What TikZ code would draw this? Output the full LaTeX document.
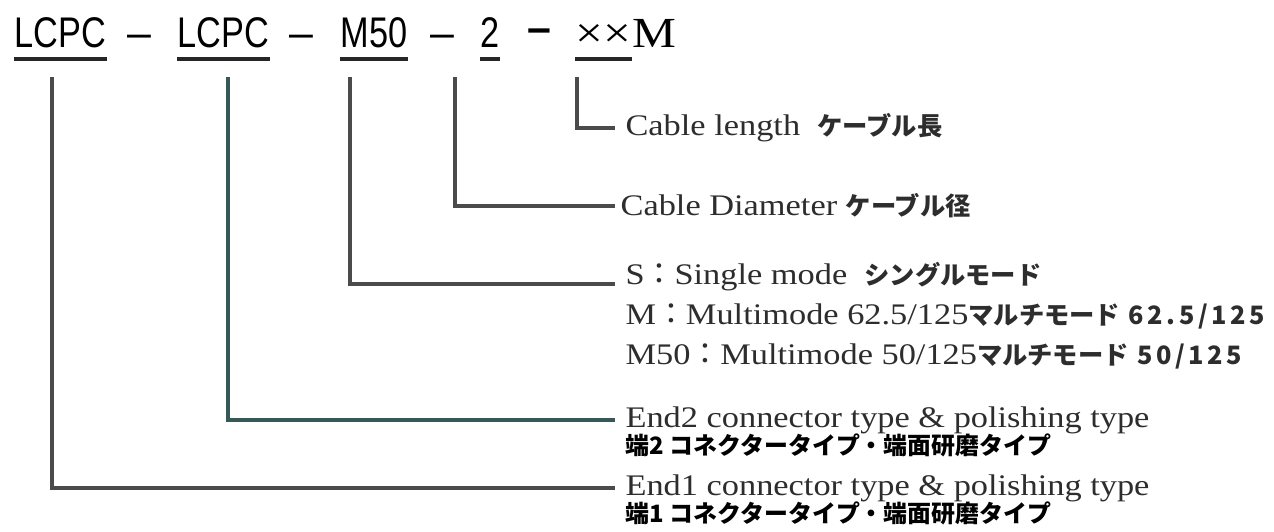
\documentclass[tikz,border=0pt]{standalone}
\usepackage{fontspec}
\setmainfont{Liberation Serif}[FakeStretch=1.15]
\newfontfamily\codefont{Liberation Sans}[FakeStretch=0.8]
\newfontfamily\dashfont{Liberation Sans}
\newfontfamily\cjk{Noto Sans CJK JP}
\newfontfamily\cjknum{Noto Sans CJK JP}[LetterSpace=14]
\usetikzlibrary{positioning}

\definecolor{leadgray}{RGB}{75,75,75}
\definecolor{leadteal}{RGB}{55,88,88}
\definecolor{txtgray}{RGB}{45,45,45}

\newcommand{\jpb}[1]{{\cjk\bfseries\fontsize{7.2}{8}\selectfont #1}}
\newcommand{\jpnum}[1]{{\cjknum\bfseries\fontsize{7.2}{8}\selectfont #1}}

\tikzset{
  code/.style={font=\codefont\fontsize{12.2}{14}\selectfont, inner sep=0pt, anchor=base west},
  codedash/.style={font=\dashfont\fontsize{12.2}{14}\selectfont, inner sep=0pt, anchor=base west},
  codeserif/.style={font=\fontsize{12.2}{14}\selectfont, inner sep=0pt, anchor=base west},
  lbl/.style={font=\fontsize{8.5}{10}\selectfont, text=txtgray, inner xsep=2.8pt, inner ysep=0pt, anchor=west},
  jpline/.style={font=\cjk\bfseries\fontsize{6.8}{8}\selectfont, inner sep=0pt, anchor=base west},
  lead/.style={draw=leadgray, line width=0.9pt},
  uline/.style={draw=black!85, line width=1.1pt}
}

\begin{document}
\begin{tikzpicture}
  \useasboundingbox[fill=white] (0,0) rectangle (12.74,-5.31);

  % part number
  \node[code] (end1) at (0.14,-0.48) {LCPC};
  \node[codedash] (d1) at (1.27,-0.48) {–};
  \node[code] (end2) at (1.77,-0.48) {LCPC};
  \node[codedash] (d2) at (2.89,-0.48) {–};
  \node[code] (mode) at (3.40,-0.48) {M50};
  \node[codedash] (d3) at (4.30,-0.48) {–};
  \node[code] (dia) at (4.80,-0.48) {2};
  \node[codedash,font=\dashfont\bfseries\fontsize{12.2}{14}\selectfont] (d4) at (5.27,-0.42) {–};
  \node[codeserif] (len) at (5.75,-0.48) {××};
  \node[codeserif] (lenunit) at (len.base east) {M};
  \foreach \n in {end1,end2,mode,dia,len}
    \draw[uline] ([yshift=-0.1cm]\n.south west) -- ([yshift=-0.1cm]\n.south east);

  % tops of the leaders
  \coordinate (t1) at (0.52,-0.77);
  \coordinate (t2) at (2.28,-0.77);
  \coordinate (t3) at (3.50,-0.77);
  \coordinate (t4) at (4.55,-0.77);
  \coordinate (t5) at (5.77,-0.77);

  % explanations
  \node[lbl] (lenlbl) at (6.15,-1.28) {Cable length\ \ \jpb{ケーブル長}};
  \node[lbl,inner xsep=1.4pt] (dialbl) at (6.15,-2.06) {Cable Diameter \jpb{ケーブル径}};
  \node[lbl,anchor=base west] (single) at (6.15,-2.84) {S{\cjk ：}Single mode\ \ \jpb{シングルモード}};
  \node[lbl,anchor=base west] (multi) at (6.15,-3.24) {M{\cjk ：}Multimode 62.5/125\jpb{マルチモード} \jpnum{62.5/125}};
  \node[lbl,anchor=base west] (multi50) at (6.15,-3.64) {M50{\cjk ：}Multimode 50/125\jpb{マルチモード} \jpnum{50/125}};
  \node[lbl] (end2lbl) at (6.15,-4.20) {End2 connector type \& polishing type};
  \node[jpline] (end2jp) at (6.25,-4.54) {端2 コネクタータイプ・端面研磨タイプ};
  \node[lbl] (end1lbl) at (6.15,-4.88) {End1 connector type \& polishing type};
  \node[jpline] (end1jp) at (6.25,-5.22) {端1 コネクタータイプ・端面研磨タイプ};

  % leaders
  \draw[lead] (t5) |- (lenlbl.west);
  \draw[lead] (t4) |- (dialbl.west);
  \draw[lead] (t3) |- (single.base west);
  \draw[lead,draw=leadteal] (t2) |- (end2lbl.west);
  \draw[lead] (t1) |- (end1lbl.west);
\end{tikzpicture}
\end{document}
